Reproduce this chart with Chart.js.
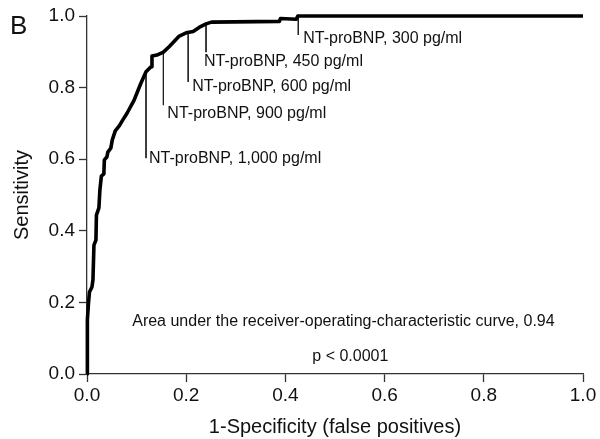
<!DOCTYPE html>
<html>
<head>
<meta charset="utf-8">
<script src="https://cdn.jsdelivr.net/npm/chart.js@4.4.1/dist/chart.umd.min.js"></script>
<style>
  html, body { margin: 0; padding: 0; background: #ffffff; }
  #wrap { width: 600px; height: 439px; position: relative; }
</style>
</head>
<body>
<div id="wrap"><canvas id="c" width="600" height="439"></canvas></div>
<script>
// ROC curve: 1-specificity (false positive rate) and sensitivity
const fpr = [0.000, 0.000, 0.0015, 0.003, 0.005, 0.010, 0.012, 0.014, 0.018, 0.019, 0.024, 0.026, 0.029, 0.034, 0.035, 0.040, 0.042, 0.048, 0.051, 0.057, 0.065, 0.071, 0.081, 0.095, 0.108, 0.119, 0.129, 0.131, 0.131, 0.141, 0.154, 0.166, 0.186, 0.200, 0.214, 0.226, 0.240, 0.251, 0.388, 0.390, 0.422, 0.425, 1.000];
const sensitivity = [0.000, 0.095, 0.151, 0.198, 0.229, 0.243, 0.263, 0.360, 0.374, 0.444, 0.464, 0.514, 0.553, 0.559, 0.598, 0.606, 0.620, 0.631, 0.654, 0.679, 0.693, 0.707, 0.729, 0.765, 0.810, 0.844, 0.858, 0.858, 0.888, 0.891, 0.899, 0.915, 0.944, 0.953, 0.957, 0.968, 0.978, 0.983, 0.985, 0.993, 0.991, 1.000, 1.000];

// Cut-off annotations (data coordinates)
const cutoffLabels = ['NT-proBNP, 1,000 pg/ml', 'NT-proBNP, 900 pg/ml', 'NT-proBNP, 600 pg/ml', 'NT-proBNP, 450 pg/ml', 'NT-proBNP, 300 pg/ml'];
const cutoffFpr = [0.119, 0.154, 0.204, 0.240, 0.426];
const cutoffSens = [0.844, 0.899, 0.953, 0.978, 1.000];
const leaderEnd = [0.603, 0.751, 0.816, 0.899, 0.947];
const labelX = [0.125, 0.162, 0.212, 0.236, 0.436];
const labelY = [0.603, 0.728, 0.802, 0.872, 0.938];

const tickValues = [0, 0.2, 0.4, 0.6, 0.8, 1.0];
const aucText = 'Area under the receiver-operating-characteristic curve, 0.94';
const pText = 'p < 0.0001';
const aucPos = [0.517, 0.145];
const pPos = [0.531, 0.050];
const panelLetter = 'B';

const FONT = "'Liberation Sans', Arial, Helvetica, sans-serif";

const datasets = [{
  label: 'ROC',
  data: fpr.map((x, i) => ({ x: x, y: sensitivity[i] })),
  borderColor: '#000000',
  borderWidth: 3.6,
  pointRadius: 0,
  tension: 0,
  fill: false,
  clip: false,
  borderJoinStyle: 'round',
  borderCapStyle: 'butt',
  order: 0
}];
cutoffFpr.forEach((x, i) => {
  datasets.push({
    label: cutoffLabels[i],
    data: [{ x: x, y: cutoffSens[i] }, { x: x, y: leaderEnd[i] }],
    borderColor: '#222222',
    borderWidth: 1,
    pointRadius: 0,
    fill: false,
    order: 1
  });
});

const textPlugin = {
  id: 'texts',
  afterDatasetsDraw(chart) {
    const ctx = chart.ctx;
    const xs = chart.scales.x, ys = chart.scales.y;
    ctx.save();
    ctx.fillStyle = '#111111';
    ctx.font = '16px ' + FONT;
    ctx.textBaseline = 'middle';
    ctx.textAlign = 'left';
    cutoffLabels.forEach((t, i) => {
      ctx.fillText(t, xs.getPixelForValue(labelX[i]), ys.getPixelForValue(labelY[i]));
    });
    ctx.textAlign = 'center';
    ctx.fillText(aucText, xs.getPixelForValue(aucPos[0]), ys.getPixelForValue(aucPos[1]));
    ctx.fillText(pText, xs.getPixelForValue(pPos[0]), ys.getPixelForValue(pPos[1]));
    ctx.font = '26px ' + FONT;
    ctx.textAlign = 'left';
    ctx.textBaseline = 'alphabetic';
    ctx.fillText(panelLetter, 10, 34);
    ctx.restore();
  }
};

new Chart(document.getElementById('c'), {
  type: 'line',
  data: { datasets: datasets },
  options: {
    responsive: false,
    animation: false,
    events: [],
    layout: { padding: { left: 0, right: 17, top: 16, bottom: 0 } },
    plugins: { legend: { display: false }, tooltip: { enabled: false } },
    scales: {
      x: {
        type: 'linear',
        min: 0, max: 1,
        afterBuildTicks(scale) { scale.ticks = tickValues.map(v => ({ value: v })); },
        afterFit(scale) { scale.height = 65; },
        ticks: {
          callback: v => v.toFixed(1),
          color: '#111111',
          font: { family: FONT, size: 19 },
          padding: 2,
          maxRotation: 0
        },
        grid: { drawOnChartArea: false, drawTicks: true, tickLength: 8, tickColor: '#333333', tickWidth: 1.3 },
        border: { display: true, color: '#333333', width: 1.3 },
        title: { display: true, text: '1-Specificity (false positives)', color: '#111111', font: { family: FONT, size: 20 }, padding: { top: 4, bottom: 0 } }
      },
      y: {
        type: 'linear',
        min: 0, max: 1,
        afterBuildTicks(scale) { scale.ticks = tickValues.map(v => ({ value: v })); },
        afterFit(scale) { scale.width = 87; },
        ticks: {
          callback: v => v.toFixed(1),
          color: '#111111',
          font: { family: FONT, size: 19 },
          padding: 4
        },
        grid: { drawOnChartArea: false, drawTicks: true, tickLength: 8, tickColor: '#333333', tickWidth: 1.3 },
        border: { display: true, color: '#333333', width: 1.3 },
        title: { display: true, text: 'Sensitivity', color: '#111111', font: { family: FONT, size: 20 }, padding: { top: 10, bottom: 4 } }
      }
    }
  },
  plugins: [textPlugin]
});
</script>
</body>
</html>
